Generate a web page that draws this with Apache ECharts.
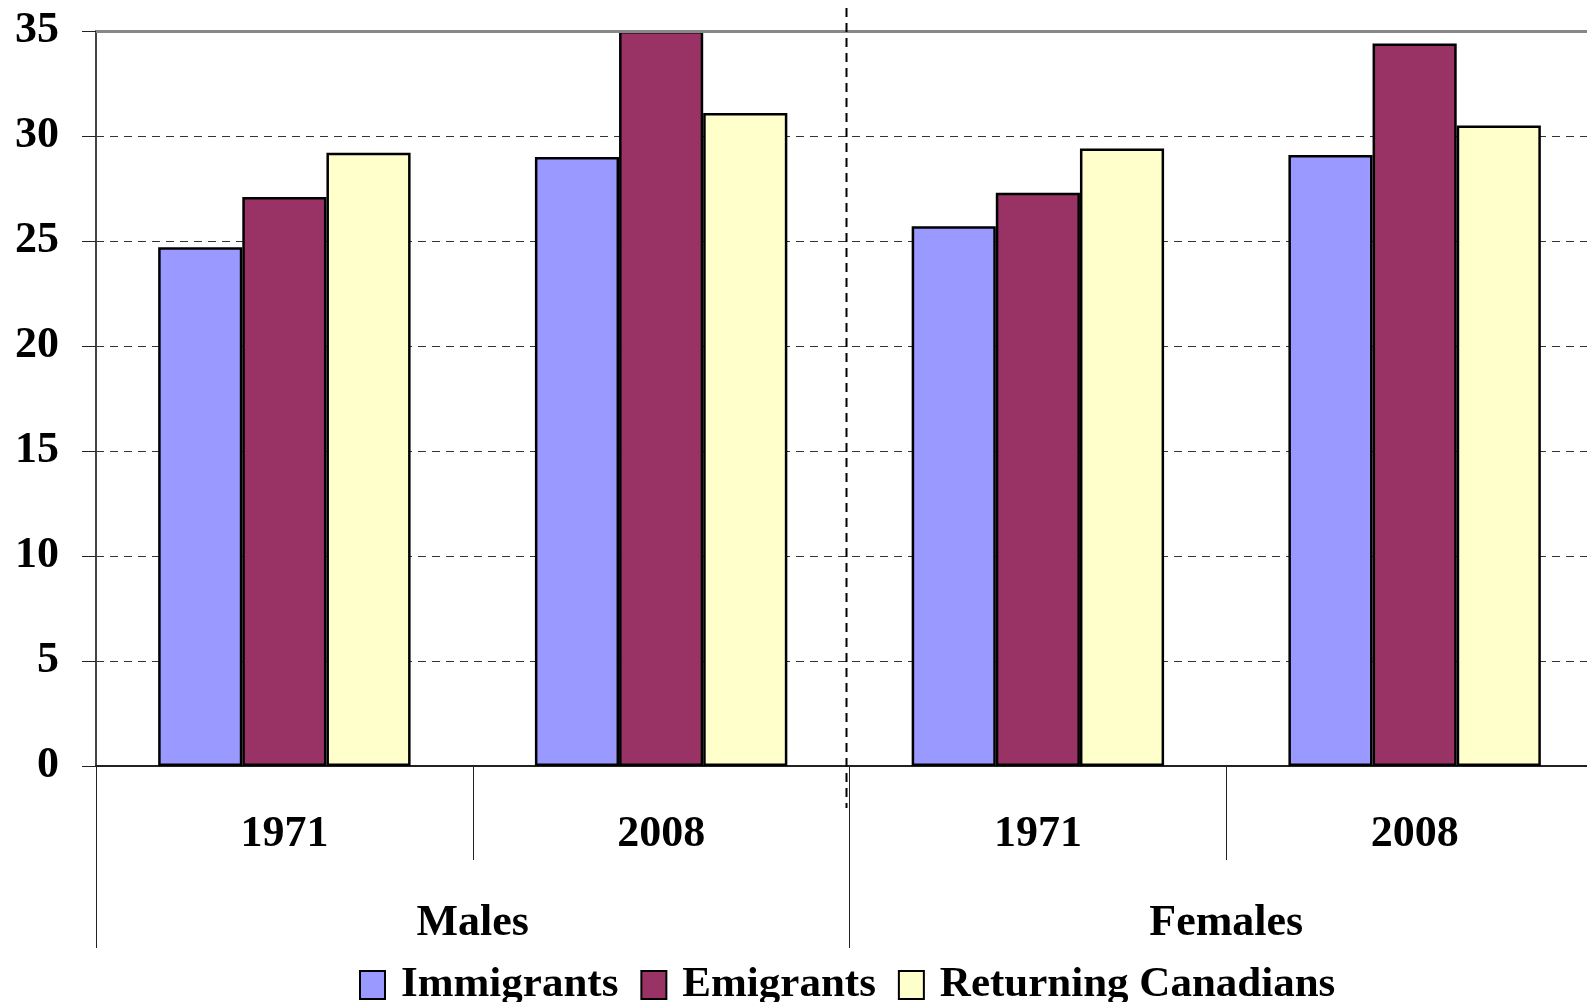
<!DOCTYPE html>
<html><head><meta charset="utf-8">
<script src="https://cdn.jsdelivr.net/npm/echarts@6/dist/echarts.min.js"></script>
<style>html,body{margin:0;padding:0;background:#fff}#c{width:1587px;height:1002px}</style>
</head><body><div id="c"></div>
<script>
const years = ['1971', '2008', '1971', '2008'];
const groups = ['Males', 'Females'];
const immigrants = [24.7, 29.0, 25.7, 29.1];
const emigrants = [27.1, 35.0, 27.3, 34.4];
const returning = [29.2, 31.1, 29.4, 30.5];
const yTicks = { min: 0, max: 35, interval: 5 };

const FONT = '"Liberation Serif", "Times New Roman", serif';
const chart = echarts.init(document.getElementById('c'));
const barStyle = (c) => ({ color: c, borderColor: '#000', borderWidth: 2.5 });

chart.setOption({
  animation: false,
  backgroundColor: '#fff',
  grid: { left: 96, top: 31, height: 735, width: 1507, containLabel: false, outerBoundsMode: 'none' },
  legend: {
    left: 354, top: 958,
    itemWidth: 25, itemHeight: 28, itemGap: 22,
    icon: 'rect',
    textStyle: { fontFamily: FONT, fontWeight: 'bold', fontSize: 43, color: '#000', lineHeight: 44, padding: [0, 0, 0, 11] },
    data: ['Immigrants', 'Emigrants', 'Returning Canadians']
  },
  xAxis: [
    {
      type: 'category', data: years, position: 'bottom',
      axisLine: { show: true, lineStyle: { color: '#222', width: 2 } },
      axisTick: { show: true, interval: 0, length: 94, lineStyle: { color: '#222', width: 1 } },
      axisLabel: { interval: 0, margin: 47, fontFamily: FONT, fontWeight: 'bold', fontSize: 44, color: '#000', lineHeight: 44 }
    },
    {
      type: 'category', data: groups, position: 'bottom', offset: 0,
      axisLine: { show: false },
      axisTick: { show: true, interval: 0, length: 182, lineStyle: { color: '#222', width: 1 } },
      axisLabel: { interval: 0, margin: 136, fontFamily: FONT, fontWeight: 'bold', fontSize: 44, color: '#000', lineHeight: 44 }
    }
  ],
  yAxis: {
    type: 'value', min: yTicks.min, max: yTicks.max, interval: yTicks.interval,
    axisLine: { show: true, lineStyle: { color: '#444', width: 2 } },
    axisTick: { show: true, length: 14, lineStyle: { color: '#222', width: 1 } },
    axisLabel: { margin: 37, fontFamily: FONT, fontWeight: 'bold', fontSize: 44, color: '#000' },
    splitLine: { show: true, lineStyle: { color: '#333', width: 1, type: [8, 6] } }
  },
  series: [
    { name: 'Immigrants', type: 'bar', data: immigrants, itemStyle: barStyle('#9999FF'), barGap: '0%', barCategoryGap: '33%',
      markLine: { silent: true, symbol: 'none', label: { show: false }, lineStyle: { color: '#888', width: 3, type: 'solid' }, data: [{ yAxis: yTicks.max }] } },
    { name: 'Emigrants', type: 'bar', data: emigrants, itemStyle: barStyle('#993366'), barGap: '0%', barCategoryGap: '33%' },
    { name: 'Returning Canadians', type: 'bar', data: returning, itemStyle: barStyle('#FFFFCC'), barGap: '0%', barCategoryGap: '33%' }
  ]
});

// dashed separator between the Males and Females groups
const p1 = chart.convertToPixel({ xAxisIndex: 0 }, 1);
const p2 = chart.convertToPixel({ xAxisIndex: 0 }, 2);
const sx = (p1 + p2) / 2 - 3;
chart.setOption({
  graphic: [{
    type: 'line', z: 100,
    shape: { x1: sx, y1: 8, x2: sx, y2: 808 },
    style: { stroke: '#000', lineWidth: 2, lineDash: [9, 6] }
  }]
});
</script></body></html>
